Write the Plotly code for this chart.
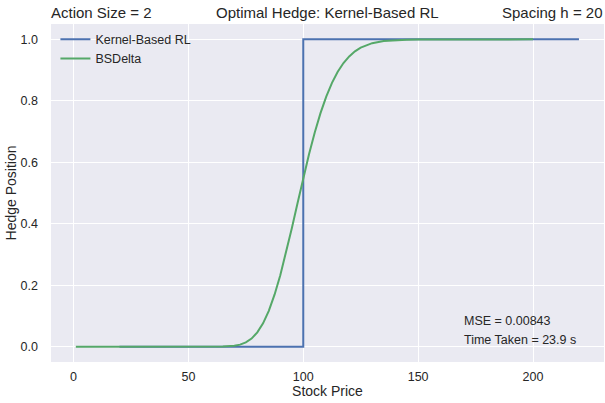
import plotly.graph_objects as go

# ---- data ----
kernel_x = [20, 40, 60, 80, 100, 100, 120, 140, 160, 180, 200, 220]
kernel_y = [0, 0, 0, 0, 0, 1, 1, 1, 1, 1, 1, 1]

bs_x = [1, 20, 40, 55, 60, 65, 70, 72.5, 75, 77.5, 80, 82.5, 85, 87.5, 90, 92.5, 95,
        97.5, 100, 102.5, 105, 107.5, 110, 112.5, 115, 117.5, 120, 122.5, 125,
        127.5, 130, 135, 140, 145, 150, 160, 180, 200]
bs_y = [0.0, 0.0, 0.0, 0.0, 0.0, 0.0004, 0.0029, 0.0066, 0.0138, 0.0262, 0.0463,
        0.0758, 0.1166, 0.169, 0.2324, 0.3053, 0.3847, 0.4667, 0.5483, 0.6259,
        0.697, 0.760, 0.8138, 0.8585, 0.8946, 0.9229, 0.9446, 0.961, 0.9729,
        0.9815, 0.9876, 0.9946, 0.9978, 0.9991, 0.9997, 1.0, 1.0, 1.0]

x_ticks = [0, 50, 100, 150, 200]
y_ticks = [0.0, 0.2, 0.4, 0.6, 0.8, 1.0]
y_tick_labels = ["0.0", "0.2", "0.4", "0.6", "0.8", "1.0"]

title_left = "Action Size = 2"
title_center = "Optimal Hedge: Kernel-Based RL"
title_right = "Spacing h = 20"
mse_text = "MSE = 0.00843"
time_text = "Time Taken = 23.9 s"

FONT = "Liberation Sans, Arial, sans-serif"
TXT = "#262626"

fig = go.Figure()
fig.add_trace(go.Scatter(x=kernel_x, y=kernel_y, mode="lines", name="Kernel-Based RL",
                         line=dict(color="#4C72B0", width=2)))
fig.add_trace(go.Scatter(x=bs_x, y=bs_y, mode="lines", name="BSDelta",
                         line=dict(color="#55A868", width=2)))

fig.update_layout(
    width=605, height=403,
    margin=dict(l=51, r=1, t=24, b=41),
    paper_bgcolor="white",
    plot_bgcolor="#EAEAF2",
    font=dict(family=FONT, color=TXT, size=12),
    showlegend=True,
    legend=dict(x=0.008, y=0.998, xanchor="left", yanchor="top",
                bgcolor="rgba(0,0,0,0)", borderwidth=0,
                font=dict(size=12.5, color=TXT), tracegroupgap=0),
    xaxis=dict(range=[-9.8, 230.9], tickvals=x_ticks, showgrid=True,
               gridcolor="white", gridwidth=1.2, zeroline=False, showline=False,
               ticks="", tickfont=dict(size=12.5, color=TXT), ticklabelstandoff=5,
               title=dict(text="Stock Price", font=dict(size=14, color=TXT), standoff=3),
               automargin=False),
    yaxis=dict(range=[-0.05, 1.05], tickvals=y_ticks, ticktext=y_tick_labels,
               showgrid=True, gridcolor="white", gridwidth=1.2, zeroline=False,
               showline=False, ticks="", tickfont=dict(size=12.5, color=TXT),
               ticklabelstandoff=12,
               title=dict(text="Hedge Position", font=dict(size=14, color=TXT), standoff=0),
               automargin=False),
    annotations=[
        dict(text=title_left, xref="paper", yref="paper", x=0, y=1, yshift=12, xshift=-2,
             xanchor="left", yanchor="middle", showarrow=False,
             font=dict(size=15, color=TXT)),
        dict(text=title_center, xref="paper", yref="paper", x=0.5, y=1, yshift=12,
             xanchor="center", yanchor="middle", showarrow=False,
             font=dict(size=15, color=TXT)),
        dict(text=title_right, xref="paper", yref="paper", x=1, y=1, yshift=12, xshift=1,
             xanchor="right", yanchor="middle", showarrow=False,
             font=dict(size=15, color=TXT)),
        dict(text=mse_text, xref="x", yref="y", x=170, y=0.082, xshift=-2,
             xanchor="left", yanchor="middle", showarrow=False,
             font=dict(size=12.5, color=TXT)),
        dict(text=time_text, xref="x", yref="y", x=170, y=0.02, xshift=-2,
             xanchor="left", yanchor="middle", showarrow=False,
             font=dict(size=12.5, color=TXT)),
    ],
)

fig.write_html("out.html")
